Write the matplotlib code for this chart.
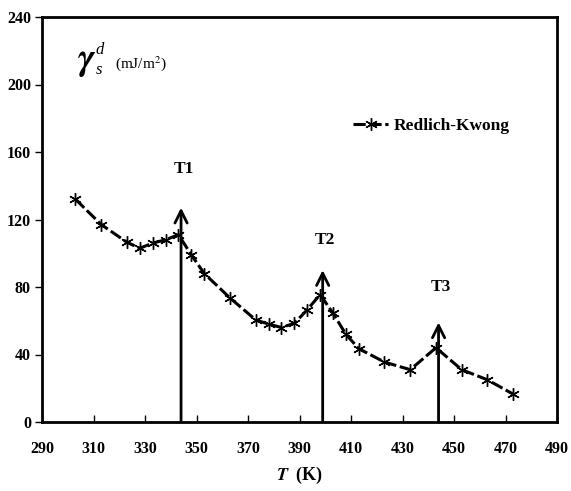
import matplotlib
matplotlib.use("Agg")
import matplotlib.pyplot as plt

T = [303, 313, 323, 328, 333, 338, 343, 348, 353, 363, 373, 378, 383, 388, 393,
     398, 403, 408, 413, 423, 433, 443, 453, 463, 473]
gamma = [132, 117, 106.5, 103, 106, 108, 111, 99, 88, 73.5, 60.5, 58, 56, 58.5, 66.5,
         75.5, 64.5, 52, 43.5, 35.5, 31, 44, 31, 25, 16.5]
trans_T = [344, 399, 444]
trans_top = [127, 90, 59]
trans_labels = ["T1", "T2", "T3"]
label_y = [150, 108, 80]
xticks = list(range(290, 491, 20))
yticks = list(range(0, 241, 40))

plt.rcParams['font.family'] = ['Liberation Serif', 'DejaVu Serif']
plt.rcParams['mathtext.fontset'] = 'stix'

fig = plt.figure(figsize=(5.71, 4.91), dpi=100)
ax = fig.add_axes([42/571, 1-422/491, (557-42)/571, (422-17)/491])

ax.plot(T, gamma, color='black', lw=2.2, ls=(0, (4, 1.2)), marker=(6, 2, 0),
        ms=9, mew=1.0, mfc='black', mec='black', label='Redlich-Kwong')

for x, top, lab, ly in zip(trans_T, trans_top, trans_labels, label_y):
    ax.annotate('', xy=(x, top), xytext=(x, 0),
                arrowprops=dict(arrowstyle='->', lw=2, color='black',
                                mutation_scale=22, shrinkA=0, shrinkB=0))
    ax.text(x + 1, ly, lab, ha='center', va='center', fontsize=12.5, fontweight='bold')

ax.set_xlim(290, 490)
ax.set_ylim(0, 240)
ax.set_xticks(xticks)
ax.set_yticks(yticks)
for s in ax.spines.values():
    s.set_linewidth(2)
ax.tick_params(axis='x', direction='in', length=5, width=1, pad=14, labelsize=11.5)
ax.tick_params(axis='y', direction='out', length=5, width=1, pad=3, labelsize=11.5)
for lbl in ax.get_xticklabels() + ax.get_yticklabels():
    lbl.set_fontweight('bold')

def px(xp, yp):
    return ((xp - 42) / 515, (422 - yp) / 405)

ax.text(*px(87, 62), r'$\boldsymbol{\gamma}$', transform=ax.transAxes, fontsize=27,
        ha='center', va='center')
ax.text(*px(99.5, 50), 'd', transform=ax.transAxes, fontsize=12, fontstyle='italic',
        ha='center', va='center')
ax.text(*px(99.5, 70), 's', transform=ax.transAxes, fontsize=12, fontstyle='italic',
        ha='center', va='center')
ax.text(*px(115, 64), r'(mJ/m$^2$)', transform=ax.transAxes, fontsize=11,
        va='center', ha='left')

leg = ax.legend(loc='center left', bbox_to_anchor=(0.574, 0.73), frameon=False,
                handlelength=2.0, handletextpad=0.35, prop={'weight': 'bold', 'size': 12.5})

fig.text((42+557)/2/571, 1-475/491, r'$\boldsymbol{T}$  (K)', ha='center', va='center',
         fontsize=13, fontweight='bold')

fig.savefig('out.png', dpi=100)
